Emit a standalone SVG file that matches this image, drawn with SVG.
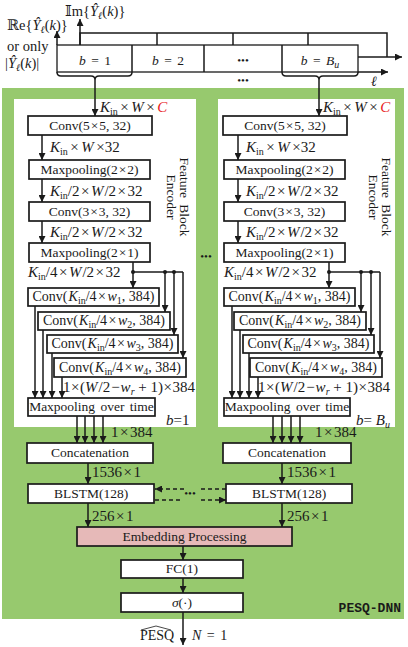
<svg xmlns="http://www.w3.org/2000/svg" width="408" height="647" viewBox="0 0 408 647">
<defs>
<marker id="ah" viewBox="0 0 8 8" refX="8" refY="4" markerWidth="7" markerHeight="7" markerUnits="userSpaceOnUse" orient="auto"><path d="M0,0 L8,4 L0,8 z" fill="#1a1a1a"/></marker>
<style>
text{font-family:"Liberation Serif","DejaVu Serif",serif;font-size:14px;fill:#1a1a1a}
.lb{font-size:15px}
.bt{font-size:13.5px;text-anchor:middle}
.cw{font-size:14px}
.i{font-style:italic}
.s{font-size:10px}
.box{fill:#fff;stroke:#1a1a1a;stroke-width:1.7}
.ln{fill:none;stroke:#1a1a1a;stroke-width:1.5}
.ar{marker-end:url(#ah)}
.da{stroke-dasharray:4 3}
.dot{fill:#1a1a1a}
.mono{font-family:"Liberation Mono","DejaVu Sans Mono",monospace;font-weight:bold;font-size:13px}
</style>
</defs>
<rect width="408" height="647" fill="#fff"/>
<g id="input">
<path class="ln" d="M80,45 V33 H387 V57 M157,33 V45 M233,33 V45 M308,33 V45"/>
<rect class="box" x="57" y="45" width="301" height="27" style="stroke-width:1.3"/>
<path class="ln" d="M132,45 V72 M204,45 V72 M282,45 V72"/>
<text class="bt" x="95" y="65" style="word-spacing:2px"><tspan class="i">b</tspan> = 1</text>
<text class="bt" x="168" y="65" style="word-spacing:2px"><tspan class="i">b</tspan> = 2</text>
<text class="bt" x="243" y="64" style="font-size:11px">•••</text>
<text class="bt" x="320" y="65" style="word-spacing:2px"><tspan class="i">b</tspan> = <tspan class="i">B</tspan><tspan class="s i" dy="3">u</tspan></text>
<text class="bt" x="243" y="84" style="font-size:11px">•••</text>
<text x="371" y="86" class="i">ℓ</text>
<text x="7" y="30" style="font-size:14.5px">ℝe{<tspan class="i">Ŷ</tspan><tspan class="s i" dy="3">ℓ</tspan><tspan dy="-3">(</tspan><tspan class="i">k</tspan>)}</text>
<text x="65" y="16" style="font-size:14.5px">𝕀m{<tspan class="i">Ŷ</tspan><tspan class="s i" dy="3">ℓ</tspan><tspan dy="-3">(</tspan><tspan class="i">k</tspan>)}</text>
<text x="7" y="51" style="font-size:14.5px">or only</text>
<text x="5" y="68" style="font-size:14.5px">|<tspan class="i">Ŷ</tspan><tspan class="s i" dy="3">ℓ</tspan><tspan dy="-3">(</tspan><tspan class="i">k</tspan>)|</text>
</g>
<g id="dnn">
<rect x="2" y="88" width="402" height="531" fill="#97c96e"/>
<rect x="14" y="99" width="182" height="328" fill="#fff"/>
<rect x="218" y="99" width="177" height="328" fill="#fff"/>
<text x="401" y="612" class="mono" text-anchor="end">PESQ-DNN</text>
<text class="bt" x="206" y="260" style="font-size:11px">•••</text>
<text class="bt" x="190" y="497" style="font-size:11px">•••</text>
</g>
<g id="encoderL">
<text class="bt" transform="translate(180,197) rotate(90)" style="word-spacing:3px">Feature Block</text>
<text class="bt" transform="translate(167,197) rotate(90)">Encoder</text>
<text class="lb" x="166" y="425"><tspan class="i">b</tspan>=1</text>
</g>
<g id="encoderR">
<text class="bt" transform="translate(382,197) rotate(90)" style="word-spacing:3px">Feature Block</text>
<text class="bt" transform="translate(369,197) rotate(90)">Encoder</text>
<text class="lb" x="356" y="425"><tspan class="i">b</tspan>= <tspan class="i">B</tspan><tspan class="s i" dy="3">u</tspan></text>
</g>
<g id="conv1L"><rect class="box" x="28" y="116" width="124" height="19"/><text class="bt" x="90" y="130">Conv(5<tspan dx="1">×</tspan><tspan dx="1">5, 32)</tspan></text></g>
<g id="mp1L"><rect class="box" x="29" y="160" width="121" height="19"/><text class="bt" x="89.5" y="174">Maxpooling(2<tspan dx="1">×</tspan><tspan dx="1">2)</tspan></text></g>
<g id="conv2L"><rect class="box" x="29" y="202" width="121" height="19"/><text class="bt" x="89.5" y="216">Conv(3<tspan dx="1">×</tspan><tspan dx="1">3, 32)</tspan></text></g>
<g id="mp2L"><rect class="box" x="29" y="243" width="121" height="19"/><text class="bt" x="89.5" y="257">Maxpooling(2<tspan dx="1">×</tspan><tspan dx="1">1)</tspan></text></g>
<g id="cw1L"><rect class="box" x="28" y="288" width="131" height="18"/><text class="bt cw" x="93.5" y="301">Conv(<tspan class="i" dx="1">K</tspan><tspan class="s" dy="3">in</tspan><tspan dy="-3">/4</tspan><tspan dx="1.5">×</tspan><tspan class="i" dx="1.5">w</tspan><tspan class="s" dy="3">1</tspan><tspan dy="-3">, 384)</tspan></text></g>
<g id="cw2L"><rect class="box" x="38" y="312" width="132" height="18"/><text class="bt cw" x="104" y="325">Conv(<tspan class="i" dx="1">K</tspan><tspan class="s" dy="3">in</tspan><tspan dy="-3">/4</tspan><tspan dx="1.5">×</tspan><tspan class="i" dx="1.5">w</tspan><tspan class="s" dy="3">2</tspan><tspan dy="-3">, 384)</tspan></text></g>
<g id="cw3L"><rect class="box" x="47" y="335" width="131" height="18"/><text class="bt cw" x="112.5" y="348">Conv(<tspan class="i" dx="1">K</tspan><tspan class="s" dy="3">in</tspan><tspan dy="-3">/4</tspan><tspan dx="1.5">×</tspan><tspan class="i" dx="1.5">w</tspan><tspan class="s" dy="3">3</tspan><tspan dy="-3">, 384)</tspan></text></g>
<g id="cw4L"><rect class="box" x="54" y="358" width="132" height="19"/><text class="bt cw" x="120" y="372">Conv(<tspan class="i" dx="1">K</tspan><tspan class="s" dy="3">in</tspan><tspan dy="-3">/4</tspan><tspan dx="1.5">×</tspan><tspan class="i" dx="1.5">w</tspan><tspan class="s" dy="3">4</tspan><tspan dy="-3">, 384)</tspan></text></g>
<g id="mptL"><rect class="box" x="28" y="398" width="127" height="18"/><text class="bt" x="91.5" y="411" style="word-spacing:2px">Maxpooling over time</text></g>
<g id="concatL"><rect class="box" x="27" y="443" width="126" height="20"/><text class="bt" x="90" y="457">Concatenation</text></g>
<g id="blstmL"><rect class="box" x="28" y="484" width="126" height="19"/><text class="bt" x="91" y="498">BLSTM(128)</text></g>
<g id="conv1R"><rect class="box" x="223" y="116" width="124" height="19"/><text class="bt" x="285" y="130">Conv(5<tspan dx="1">×</tspan><tspan dx="1">5, 32)</tspan></text></g>
<g id="mp1R"><rect class="box" x="224" y="160" width="121" height="19"/><text class="bt" x="284.5" y="174">Maxpooling(2<tspan dx="1">×</tspan><tspan dx="1">2)</tspan></text></g>
<g id="conv2R"><rect class="box" x="224" y="202" width="121" height="19"/><text class="bt" x="284.5" y="216">Conv(3<tspan dx="1">×</tspan><tspan dx="1">3, 32)</tspan></text></g>
<g id="mp2R"><rect class="box" x="224" y="243" width="121" height="19"/><text class="bt" x="284.5" y="257">Maxpooling(2<tspan dx="1">×</tspan><tspan dx="1">1)</tspan></text></g>
<g id="cw1R"><rect class="box" x="224" y="288" width="131" height="18"/><text class="bt cw" x="289.5" y="301">Conv(<tspan class="i" dx="1">K</tspan><tspan class="s" dy="3">in</tspan><tspan dy="-3">/4</tspan><tspan dx="1.5">×</tspan><tspan class="i" dx="1.5">w</tspan><tspan class="s" dy="3">1</tspan><tspan dy="-3">, 384)</tspan></text></g>
<g id="cw2R"><rect class="box" x="234" y="312" width="132" height="18"/><text class="bt cw" x="300" y="325">Conv(<tspan class="i" dx="1">K</tspan><tspan class="s" dy="3">in</tspan><tspan dy="-3">/4</tspan><tspan dx="1.5">×</tspan><tspan class="i" dx="1.5">w</tspan><tspan class="s" dy="3">2</tspan><tspan dy="-3">, 384)</tspan></text></g>
<g id="cw3R"><rect class="box" x="243" y="335" width="131" height="18"/><text class="bt cw" x="308.5" y="348">Conv(<tspan class="i" dx="1">K</tspan><tspan class="s" dy="3">in</tspan><tspan dy="-3">/4</tspan><tspan dx="1.5">×</tspan><tspan class="i" dx="1.5">w</tspan><tspan class="s" dy="3">3</tspan><tspan dy="-3">, 384)</tspan></text></g>
<g id="cw4R"><rect class="box" x="250" y="358" width="132" height="19"/><text class="bt cw" x="316" y="372">Conv(<tspan class="i" dx="1">K</tspan><tspan class="s" dy="3">in</tspan><tspan dy="-3">/4</tspan><tspan dx="1.5">×</tspan><tspan class="i" dx="1.5">w</tspan><tspan class="s" dy="3">4</tspan><tspan dy="-3">, 384)</tspan></text></g>
<g id="mptR"><rect class="box" x="224" y="398" width="126" height="18"/><text class="bt" x="287" y="411" style="word-spacing:2px">Maxpooling over time</text></g>
<g id="concatR"><rect class="box" x="223" y="443" width="128" height="20"/><text class="bt" x="287" y="457">Concatenation</text></g>
<g id="blstmR"><rect class="box" x="226" y="484" width="126" height="19"/><text class="bt" x="289" y="498">BLSTM(128)</text></g>
<g id="embed"><rect x="77" y="527" width="215" height="19" fill="#e6b9b8" stroke="#1a1a1a" stroke-width="1.7"/><text class="bt" x="184.5" y="541">Embedding Processing</text></g>
<g id="fc"><rect class="box" x="121" y="560" width="122" height="18"/><text class="bt" x="182" y="573">FC(1)</text></g>
<g id="sigma"><rect class="box" x="121" y="593" width="122" height="19"/><text class="bt" x="182" y="607"><tspan class="i">σ</tspan>(·)</text></g>
<g id="output">
<path d="M141,630 L156,626 L171,630" fill="none" stroke="#1a1a1a" stroke-width="0.8"/>
<text x="140" y="640">PESQ</text>
<text x="192" y="640" style="word-spacing:2px"><tspan class="i">N</tspan> = 1</text>
</g>
<g id="connectors">
<path class="ln ar" d="M57,45 V31"/>
<path class="ln ar" d="M80,45 V19"/>
<path class="ln ar" d="M358,72 H388"/>
<path class="ln ar" d="M358,57 H402"/>
<path class="ln" d="M57,72 Q57,76 61,76 H91 Q95,76 95,80 Q95,76 99,76 H128 Q132,76 132,72"/>
<path class="ln" d="M282,72 Q282,76 286,76 H315 Q319,76 319,80 Q319,76 323,76 H354 Q358,76 358,72"/>
<path class="ln ar" d="M95,80 V116"/>
<path class="ln ar" d="M319,80 V116"/>
<path class="ln ar" d="M42,135 V160"/>
<path class="ln ar" d="M42,179 V202"/>
<path class="ln ar" d="M42,221 V243"/>
<path class="ln ar" d="M133,262 V288"/>
<path class="ln" d="M133,272 H183"/>
<path class="ln ar" d="M165,272 V312"/>
<path class="ln ar" d="M174,272 V335"/>
<path class="ln ar" d="M183,272 V358"/>
<circle class="dot" cx="133" cy="272" r="2"/><circle class="dot" cx="165" cy="272" r="2"/><circle class="dot" cx="174" cy="272" r="2"/>
<path class="ln ar" d="M35,306 V398"/>
<path class="ln ar" d="M43,330 V398"/>
<path class="ln ar" d="M52,353 V398"/>
<path class="ln ar" d="M62,377 V398"/>
<path class="ln ar" d="M77,416 V443"/>
<path class="ln ar" d="M85,416 V443"/>
<path class="ln ar" d="M94,416 V443"/>
<path class="ln ar" d="M103,416 V443"/>
<path class="ln ar" d="M88,463 V484"/>
<path class="ln ar" d="M88,503 V527"/>
<path class="ln ar" d="M238,135 V160"/>
<path class="ln ar" d="M238,179 V202"/>
<path class="ln ar" d="M238,221 V243"/>
<path class="ln ar" d="M329,262 V288"/>
<path class="ln" d="M329,272 H380"/>
<path class="ln ar" d="M361,272 V312"/>
<path class="ln ar" d="M371,272 V335"/>
<path class="ln ar" d="M380,272 V358"/>
<circle class="dot" cx="329" cy="272" r="2"/><circle class="dot" cx="361" cy="272" r="2"/><circle class="dot" cx="371" cy="272" r="2"/>
<path class="ln ar" d="M232,306 V398"/>
<path class="ln ar" d="M240,330 V398"/>
<path class="ln ar" d="M249,353 V398"/>
<path class="ln ar" d="M258,377 V398"/>
<path class="ln ar" d="M273,416 V443"/>
<path class="ln ar" d="M282,416 V443"/>
<path class="ln ar" d="M291,416 V443"/>
<path class="ln ar" d="M300,416 V443"/>
<path class="ln ar" d="M282,463 V484"/>
<path class="ln ar" d="M282,503 V527"/>
<path class="ln da" d="M226,489 H199"/>
<path class="ln da ar" d="M184,489 H155"/>
<path class="ln da" d="M155,500 H183"/>
<path class="ln da ar" d="M201,500 H226"/>
<path class="ln ar" d="M183,546 V560"/>
<path class="ln ar" d="M183,578 V593"/>
<path class="ln ar" d="M183,612 V645"/>
</g>
<g id="labels">
<text class="lb" x="100" y="112"><tspan class="i">K</tspan><tspan class="s" dy="3">in</tspan><tspan dy="-3" dx="2.5">×</tspan><tspan class="i" dx="2.5">W</tspan><tspan dx="2.5">×</tspan><tspan class="i" dx="2.5" fill="#e8191c">C</tspan></text>
<text class="lb" x="50" y="152"><tspan class="i">K</tspan><tspan class="s" dy="3">in</tspan><tspan dy="-3" dx="2.5">×</tspan><tspan class="i" dx="2.5">W</tspan><tspan dx="2.5">×</tspan><tspan>32</tspan></text>
<text class="lb" x="50" y="196"><tspan class="i">K</tspan><tspan class="s" dy="3">in</tspan><tspan dy="-3">/2</tspan><tspan dx="1.5">×</tspan><tspan class="i" dx="1.5">W</tspan><tspan dx="1">/2</tspan><tspan dx="1.5">×</tspan><tspan dx="1.5">32</tspan></text>
<text class="lb" x="50" y="237"><tspan class="i">K</tspan><tspan class="s" dy="3">in</tspan><tspan dy="-3">/2</tspan><tspan dx="1.5">×</tspan><tspan class="i" dx="1.5">W</tspan><tspan dx="1">/2</tspan><tspan dx="1.5">×</tspan><tspan dx="1.5">32</tspan></text>
<text class="lb" x="28" y="277"><tspan class="i">K</tspan><tspan class="s" dy="3">in</tspan><tspan dy="-3">/4</tspan><tspan dx="1.5">×</tspan><tspan class="i" dx="1.5">W</tspan><tspan dx="1">/2</tspan><tspan dx="1.5">×</tspan><tspan dx="1.5">32</tspan></text>
<text class="lb" x="63" y="392">1<tspan dx="0.5">×</tspan><tspan dx="0.5">(</tspan><tspan class="i">W</tspan><tspan dx="1">/2</tspan><tspan dx="1">−</tspan><tspan class="i" dx="1">w</tspan><tspan class="s i" dy="3">r</tspan><tspan dy="-3"> + 1)</tspan><tspan dx="0.5">×</tspan><tspan dx="0.5">384</tspan></text>
<text class="lb" x="111" y="437">1<tspan dx="1.5">×</tspan><tspan dx="1.5">384</tspan></text>
<text class="lb" x="92" y="477">1536<tspan dx="1.5">×</tspan><tspan dx="1.5">1</tspan></text>
<text class="lb" x="92" y="521">256<tspan dx="1.5">×</tspan><tspan dx="1.5">1</tspan></text>
<text class="lb" x="323" y="112"><tspan class="i">K</tspan><tspan class="s" dy="3">in</tspan><tspan dy="-3" dx="2.5">×</tspan><tspan class="i" dx="2.5">W</tspan><tspan dx="2.5">×</tspan><tspan class="i" dx="2.5" fill="#e8191c">C</tspan></text>
<text class="lb" x="246" y="152"><tspan class="i">K</tspan><tspan class="s" dy="3">in</tspan><tspan dy="-3" dx="2.5">×</tspan><tspan class="i" dx="2.5">W</tspan><tspan dx="2.5">×</tspan><tspan>32</tspan></text>
<text class="lb" x="246" y="196"><tspan class="i">K</tspan><tspan class="s" dy="3">in</tspan><tspan dy="-3">/2</tspan><tspan dx="1.5">×</tspan><tspan class="i" dx="1.5">W</tspan><tspan dx="1">/2</tspan><tspan dx="1.5">×</tspan><tspan dx="1.5">32</tspan></text>
<text class="lb" x="246" y="237"><tspan class="i">K</tspan><tspan class="s" dy="3">in</tspan><tspan dy="-3">/2</tspan><tspan dx="1.5">×</tspan><tspan class="i" dx="1.5">W</tspan><tspan dx="1">/2</tspan><tspan dx="1.5">×</tspan><tspan dx="1.5">32</tspan></text>
<text class="lb" x="224" y="277"><tspan class="i">K</tspan><tspan class="s" dy="3">in</tspan><tspan dy="-3">/4</tspan><tspan dx="1.5">×</tspan><tspan class="i" dx="1.5">W</tspan><tspan dx="1">/2</tspan><tspan dx="1.5">×</tspan><tspan dx="1.5">32</tspan></text>
<text class="lb" x="258" y="392">1<tspan dx="0.5">×</tspan><tspan dx="0.5">(</tspan><tspan class="i">W</tspan><tspan dx="1">/2</tspan><tspan dx="1">−</tspan><tspan class="i" dx="1">w</tspan><tspan class="s i" dy="3">r</tspan><tspan dy="-3"> + 1)</tspan><tspan dx="0.5">×</tspan><tspan dx="0.5">384</tspan></text>
<text class="lb" x="315" y="437">1<tspan dx="1.5">×</tspan><tspan dx="1.5">384</tspan></text>
<text class="lb" x="287" y="477">1536<tspan dx="1.5">×</tspan><tspan dx="1.5">1</tspan></text>
<text class="lb" x="287" y="521">256<tspan dx="1.5">×</tspan><tspan dx="1.5">1</tspan></text>
</g>
</svg>
